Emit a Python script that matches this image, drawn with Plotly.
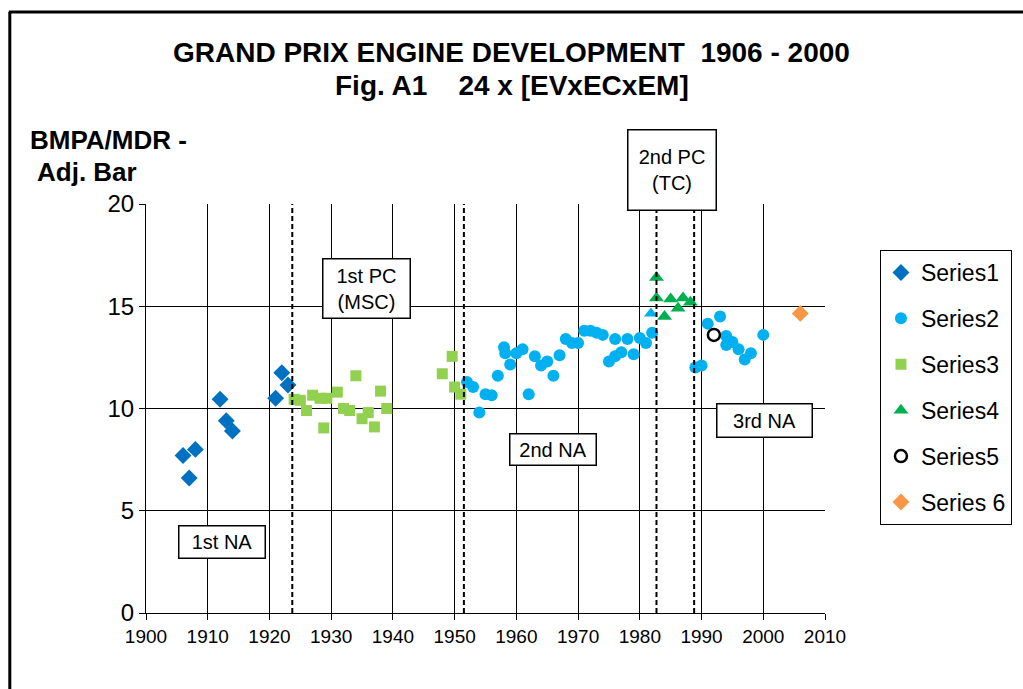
import plotly.graph_objects as go

# ---------------- data ----------------
s1_year = [1906, 1907, 1908, 1912, 1913, 1914, 1921, 1922, 1923]
s1_val = [7.7, 6.6, 8.0, 10.45, 9.4, 8.9, 10.5, 11.75, 11.15]

s2_year = [1952, 1953, 1954, 1955, 1956, 1957, 1958, 1958.2, 1959, 1960, 1961, 1962,
           1963, 1964, 1965, 1966, 1967, 1968, 1969, 1970, 1971, 1972, 1973, 1974,
           1975, 1976, 1976, 1977, 1978, 1979, 1980, 1981, 1981.8, 1982,
           1989, 1990, 1991, 1993, 1994, 1994, 1995, 1996, 1997, 1998, 2000]
s2_val = [11.3, 11.05, 9.8, 10.7, 10.65, 11.6, 13.0, 12.7, 12.15, 12.7, 12.9, 10.7,
          12.55, 12.1, 12.3, 11.6, 12.6, 13.4, 13.2, 13.2, 13.8, 13.8, 13.7, 13.6,
          12.3, 12.55, 13.4, 12.75, 13.4, 12.65, 13.45, 13.2, 14.65, 13.7,
          12.0, 12.1, 14.15, 14.5, 13.55, 13.1, 13.25, 12.9, 12.4, 12.7, 13.6]

s3_year = [1924, 1925, 1926, 1927, 1928.2, 1928.8, 1929.3, 1931, 1932, 1933, 1934,
           1935, 1936, 1937, 1938, 1939, 1948, 1949.6, 1950, 1951]
s3_val = [10.45, 10.4, 9.9, 10.65, 10.5, 9.05, 10.5, 10.8, 10.0, 9.9, 11.6,
          9.5, 9.8, 9.1, 10.85, 10.0, 11.7, 12.55, 11.05, 10.7]

s4_year = [1982.7, 1982.7, 1984, 1985, 1986.2, 1987, 1988.2]
s4_val = [16.4, 15.4, 14.5, 15.35, 14.9, 15.4, 15.2]

s5_year = [1992]
s5_val = [13.6]

s6_year = [2006]
s6_val = [14.65]

x_ticks = list(range(1900, 2011, 10))
y_ticks = [0, 5, 10, 15, 20]

# ---------------- figure ----------------
FONT = "Arial, Liberation Sans, sans-serif"
L, R, T, B = 145.5, 826.0, 204.0, 613.0
W, H = R - L, B - T


def px(x):
    return (x - L) / W


def py(y):
    return (B - y) / H


fig = go.Figure()

s2_symbols = ["triangle-up" if (x == 1981.8) else "circle" for x in s2_year]

fig.add_trace(go.Scatter(x=s1_year, y=s1_val, mode="markers", name="Series1",
                         legendgroup="g1",
                         marker=dict(symbol="diamond", size=13, color="#0070C0")))
fig.add_trace(go.Scatter(x=s2_year, y=s2_val, mode="markers", name="Series2",
                         legendgroup="g2",
                         marker=dict(symbol=s2_symbols, size=12, color="#00B0F0")))
fig.add_trace(go.Scatter(x=s3_year, y=s3_val, mode="markers", name="Series3",
                         legendgroup="g3",
                         marker=dict(symbol="square", size=11, color="#92D050")))
fig.add_trace(go.Scatter(x=s4_year, y=s4_val, mode="markers", name="Series4",
                         legendgroup="g4",
                         marker=dict(symbol="triangle-up", size=13, color="#00B050")))
fig.add_trace(go.Scatter(x=s5_year, y=s5_val, mode="markers", name="Series5",
                         legendgroup="g5",
                         marker=dict(symbol="circle-open", size=12, color="#000000",
                                     line=dict(width=2.5, color="#000000"))))
fig.add_trace(go.Scatter(x=s6_year, y=s6_val, mode="markers", name="Series 6",
                         legendgroup="g6",
                         marker=dict(symbol="diamond", size=13, color="#F79646")))

# dashed period lines
dash_lines = [(1923.7, 1.0), (1951.5, 1.0), (1982.7, py(210)), (1988.8, py(210))]
shapes = []
for xv, ytop in dash_lines:
    shapes.append(dict(type="line", xref="x", yref="paper", x0=xv, x1=xv, y0=0, y1=ytop,
                       line=dict(color="black", width=2, dash="5px,3px"), layer="above"))
# outer chart border (left + top)
shapes.append(dict(type="line", xref="paper", yref="paper", x0=px(9), x1=px(9),
                   y0=py(700), y1=py(12), line=dict(color="black", width=3)))
shapes.append(dict(type="line", xref="paper", yref="paper", x0=px(8), x1=px(1030),
                   y0=py(12), y1=py(12), line=dict(color="black", width=3)))

annotations = []
# titles
annotations.append(dict(text="<b>GRAND PRIX ENGINE DEVELOPMENT\u00a0 1906 - 2000</b>",
                        xref="paper", yref="paper", x=px(512), y=py(52),
                        xanchor="center", yanchor="middle", showarrow=False,
                        font=dict(family=FONT, size=28, color="black")))
annotations.append(dict(text="<b>Fig. A1\u00a0\u00a0\u00a0 24 x [EVxECxEM]</b>",
                        xref="paper", yref="paper", x=px(512), y=py(85),
                        xanchor="center", yanchor="middle", showarrow=False,
                        font=dict(family=FONT, size=28, color="black")))
annotations.append(dict(text="<b>BMPA/MDR -</b>", xref="paper", yref="paper",
                        x=px(27), y=py(140), xanchor="left", yanchor="middle",
                        showarrow=False, font=dict(family=FONT, size=26, color="black")))
annotations.append(dict(text="<b>Adj. Bar</b>", xref="paper", yref="paper",
                        x=px(34), y=py(172), xanchor="left", yanchor="middle",
                        showarrow=False, font=dict(family=FONT, size=26, color="black")))

# boxed labels: (text, left, top, right, bottom) in pixels
boxes = [
    ("1st PC<br>(MSC)", 322, 258, 410, 318),
    ("2nd PC<br>(TC)", 628, 129, 717, 210),
    ("1st NA", 178, 525, 265, 558),
    ("2nd NA", 510, 433, 597, 465),
    ("3rd NA", 717, 403, 813, 437),
]
for txt, x0, y0, x1, y1 in boxes:
    annotations.append(dict(text=txt, xref="paper", yref="paper",
                            x=px((x0 + x1) / 2), y=py((y0 + y1) / 2),
                            xanchor="center", yanchor="middle", showarrow=False,
                            width=x1 - x0 - 2, height=y1 - y0 - 2, borderpad=0,
                            bordercolor="black", borderwidth=1.5, bgcolor="white",
                            font=dict(family=FONT, size=20, color="black")))

fig.update_layout(
    width=1023, height=689,
    margin=dict(l=L, r=1023 - R, t=T, b=689 - B),
    paper_bgcolor="white", plot_bgcolor="white",
    font=dict(family=FONT, color="black"),
    shapes=shapes, annotations=annotations,
    showlegend=True,
    legend=dict(x=px(880), y=py(250), xanchor="left", yanchor="top",
                bordercolor="black", borderwidth=1, bgcolor="white",
                font=dict(family=FONT, size=23, color="black"),
                tracegroupgap=13, itemwidth=30),
    xaxis=dict(range=[1900, 2010], tickvals=x_ticks, ticktext=[str(v) for v in x_ticks],
               showgrid=True, gridcolor="black", gridwidth=1, zeroline=False,
               showline=True, linecolor="black", linewidth=1,
               ticks="outside", ticklen=6, tickcolor="black",
               tickfont=dict(family=FONT, size=19, color="black")),
    yaxis=dict(range=[0, 20], tickvals=y_ticks, ticktext=[str(v) for v in y_ticks],
               showgrid=True, gridcolor="black", gridwidth=1, zeroline=False,
               showline=True, linecolor="black", linewidth=1,
               ticks="outside", ticklen=6, tickcolor="black",
               tickfont=dict(family=FONT, size=24, color="black")),
)

fig.write_html("out.html", config={"displayModeBar": False},
               post_script="document.body.style.margin='0px';document.body.style.overflow='hidden';")
